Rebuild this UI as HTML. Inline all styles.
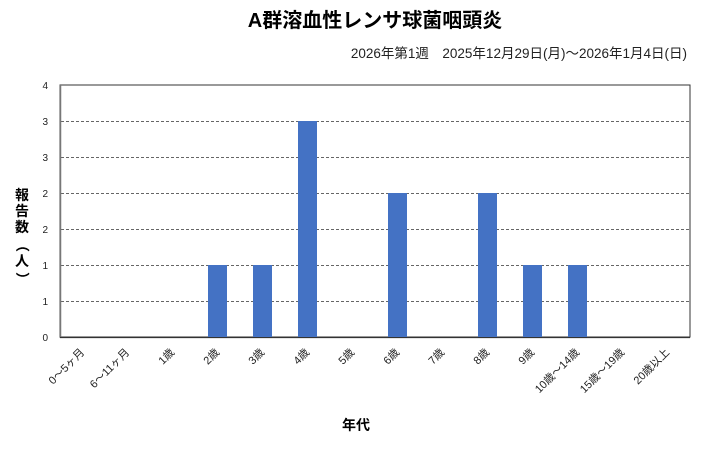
<!DOCTYPE html>
<html><head><meta charset="utf-8"><style>
html,body{margin:0;padding:0;background:#fff;}
svg{display:block;font-family:"Liberation Sans","Noto Sans CJK JP",sans-serif;}
</style></head><body>
<svg width="720" height="456" viewBox="0 0 720 456">
<text x="375" y="27" font-size="20" font-weight="bold" text-anchor="middle" fill="#000">A群溶血性レンサ球菌咽頭炎</text>
<text x="687" y="58" font-size="13.5" text-anchor="end" fill="#222">2026年第1週　2025年12月29日(月)～2026年1月4日(日)</text>
<rect x="60" y="85" width="630" height="252" fill="#fff" stroke="#333" stroke-width="1"/>
<g stroke="#666" stroke-width="1" stroke-dasharray="3,2">
<line x1="61" y1="121.5" x2="690" y2="121.5"/>
<line x1="61" y1="157.5" x2="690" y2="157.5"/>
<line x1="61" y1="193.5" x2="690" y2="193.5"/>
<line x1="61" y1="229.5" x2="690" y2="229.5"/>
<line x1="61" y1="265.5" x2="690" y2="265.5"/>
<line x1="61" y1="301.5" x2="690" y2="301.5"/>
</g>
<line x1="60.5" y1="85" x2="60.5" y2="338" stroke="#777" stroke-width="1.5"/>
<line x1="60" y1="337.5" x2="690" y2="337.5" stroke="#333" stroke-width="1.2"/>
<g fill="#4472c4">
<rect x="208" y="265" width="19" height="72"/>
<rect x="253" y="265" width="19" height="72"/>
<rect x="298" y="121" width="19" height="216"/>
<rect x="388" y="193" width="19" height="144"/>
<rect x="478" y="193" width="19" height="144"/>
<rect x="523" y="265" width="19" height="72"/>
<rect x="568" y="265" width="19" height="72"/>
</g>
<g font-size="10" fill="#222" text-anchor="end">
<text x="48" y="341">0</text><text x="48" y="305">1</text><text x="48" y="269">1</text>
<text x="48" y="233">2</text><text x="48" y="197">2</text><text x="48" y="161">3</text>
<text x="48" y="125">3</text><text x="48" y="89">4</text>
</g>
<g font-size="11" fill="#222" text-anchor="end">
<text transform="translate(85,353) rotate(-45)">0～5ヶ月</text>
<text transform="translate(130,353) rotate(-45)">6～11ヶ月</text>
<text transform="translate(175,353) rotate(-45)">1歳</text>
<text transform="translate(220,353) rotate(-45)">2歳</text>
<text transform="translate(265,353) rotate(-45)">3歳</text>
<text transform="translate(310,353) rotate(-45)">4歳</text>
<text transform="translate(355,353) rotate(-45)">5歳</text>
<text transform="translate(400,353) rotate(-45)">6歳</text>
<text transform="translate(445,353) rotate(-45)">7歳</text>
<text transform="translate(490,353) rotate(-45)">8歳</text>
<text transform="translate(535,353) rotate(-45)">9歳</text>
<text transform="translate(580,353) rotate(-45)">10歳～14歳</text>
<text transform="translate(625,353) rotate(-45)">15歳～19歳</text>
<text transform="translate(670,353) rotate(-45)">20歳以上</text>
</g>
<text x="356" y="430" font-size="14" font-weight="bold" text-anchor="middle" fill="#000">年代</text>
<g font-size="14" font-weight="bold" fill="#000" text-anchor="middle">
<text x="22" y="200">報</text><text x="22" y="216">告</text><text x="22" y="232">数</text>
<text x="22" y="250" transform="rotate(90,22,245)">（</text>
<text x="22" y="266">人</text>
<text x="22" y="284" transform="rotate(90,22,279)">）</text>
</g>
</svg>
</body></html>
